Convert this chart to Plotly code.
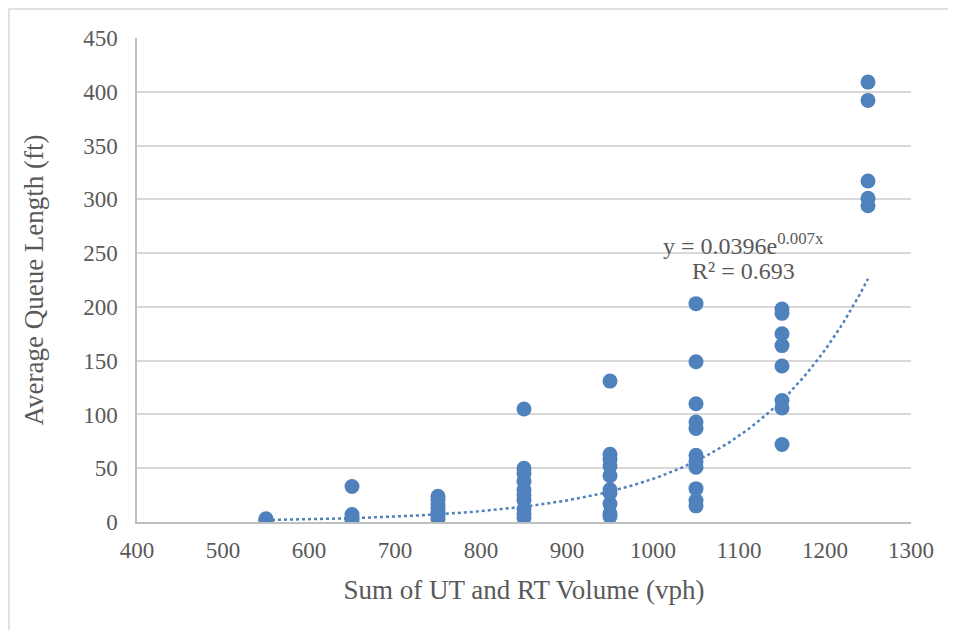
import numpy as np
import plotly.graph_objects as go

# Data (x = volume group, y = queue length)
x_550 = [550, 550, 550]
y_550 = [1, 2, 3]
x_650 = [650, 650, 650, 650]
y_650 = [33, 7, 4, 2]
x_750 = [750] * 7
y_750 = [24, 20, 16, 13, 9, 6, 3]
x_850 = [850] * 10
y_850 = [105, 50, 45, 38, 30, 25, 20, 12, 8, 4]
x_950 = [950] * 10
y_950 = [131, 63, 58, 52, 43, 30, 27, 17, 8, 5]
x_1050 = [1050] * 11
y_1050 = [203, 149, 110, 93, 87, 62, 56, 51, 31, 20, 15]
x_1150 = [1150] * 8
y_1150 = [198, 194, 175, 164, 145, 113, 106, 72]
x_1250 = [1250] * 5
y_1250 = [409, 392, 317, 301, 294]

x_vals = x_550 + x_650 + x_750 + x_850 + x_950 + x_1050 + x_1150 + x_1250
y_vals = y_550 + y_650 + y_750 + y_850 + y_950 + y_1050 + y_1150 + y_1250

# Exponential trendline parameters (label shows rounded values)
TREND_A = 0.0396
TREND_B = 0.00692
trend_x = np.linspace(550, 1250, 200)
trend_y = TREND_A * np.exp(TREND_B * trend_x)

eq_text = "y = 0.0396e<sup>0.007x</sup>"
r2_text = "R² = 0.693"

x_ticks = list(range(400, 1301, 100))
y_ticks = list(range(0, 451, 50))

BLUE = "#4F81BD"
TXT = "#595959"
FONT = "Liberation Serif"

fig = go.Figure()
fig.add_trace(go.Scatter(x=trend_x, y=trend_y, mode="lines",
                         line=dict(color=BLUE, width=2.5, dash="dot"),
                         hoverinfo="skip", showlegend=False))
fig.add_trace(go.Scatter(x=x_vals, y=y_vals, mode="markers",
                         marker=dict(color=BLUE, size=15, line=dict(width=0)),
                         showlegend=False))

# page has an 8px body margin, so the figure starts at (8, 8)
OFF = 8
W, H = 956 - OFF, 630 - OFF
L, R, T, B = 137 - OFF, 45, 38 - OFF, 108
pw, ph = W - L - R, H - T - B

def px(xp):
    return (xp - OFF - L) / pw

def py(yp):
    return (H - B - (yp - OFF)) / ph

fig.add_shape(type="rect", xref="paper", yref="paper",
              x0=px(9), x1=px(950), y0=py(700), y1=py(9),
              line=dict(color="#d9d9d9", width=1.5), layer="below")

fig.add_annotation(x=px(743), y=py(244), xref="paper", yref="paper",
                   xanchor="center", yanchor="middle",
                   text=eq_text, showarrow=False,
                   font=dict(family=FONT, size=24, color=TXT))
fig.add_annotation(x=px(743), y=py(271), xref="paper", yref="paper",
                   xanchor="center", yanchor="middle",
                   text=r2_text, showarrow=False,
                   font=dict(family=FONT, size=24, color=TXT))

fig.update_layout(
    width=W, height=H,
    margin=dict(l=L, r=R, t=T, b=B),
    paper_bgcolor="white", plot_bgcolor="white",
    font=dict(family=FONT, color=TXT, size=23),
    xaxis=dict(range=[400, 1300], tickvals=x_ticks, ticktext=[str(v) for v in x_ticks],
               showgrid=False, zeroline=False, showline=True,
               linecolor="#bfbfbf", linewidth=1.5, ticks="",
               ticklabelstandoff=7,
               tickfont=dict(family=FONT, size=23, color=TXT),
               title=dict(text="Sum of UT and RT Volume (vph)", standoff=18,
                          font=dict(family=FONT, size=27, color=TXT))),
    yaxis=dict(range=[0, 450], tickvals=y_ticks, ticktext=[str(v) for v in y_ticks],
               showgrid=True, gridcolor="#d9d9d9", gridwidth=1.5,
               zeroline=False, showline=True,
               linecolor="#bfbfbf", linewidth=1.5, ticks="", ticklen=0,
               ticklabelstandoff=13,
               tickfont=dict(family=FONT, size=23, color=TXT),
               title=dict(text="Average Queue Length (ft)", standoff=32,
                          font=dict(family=FONT, size=27, color=TXT))),
)

fig.write_html("out.html")
